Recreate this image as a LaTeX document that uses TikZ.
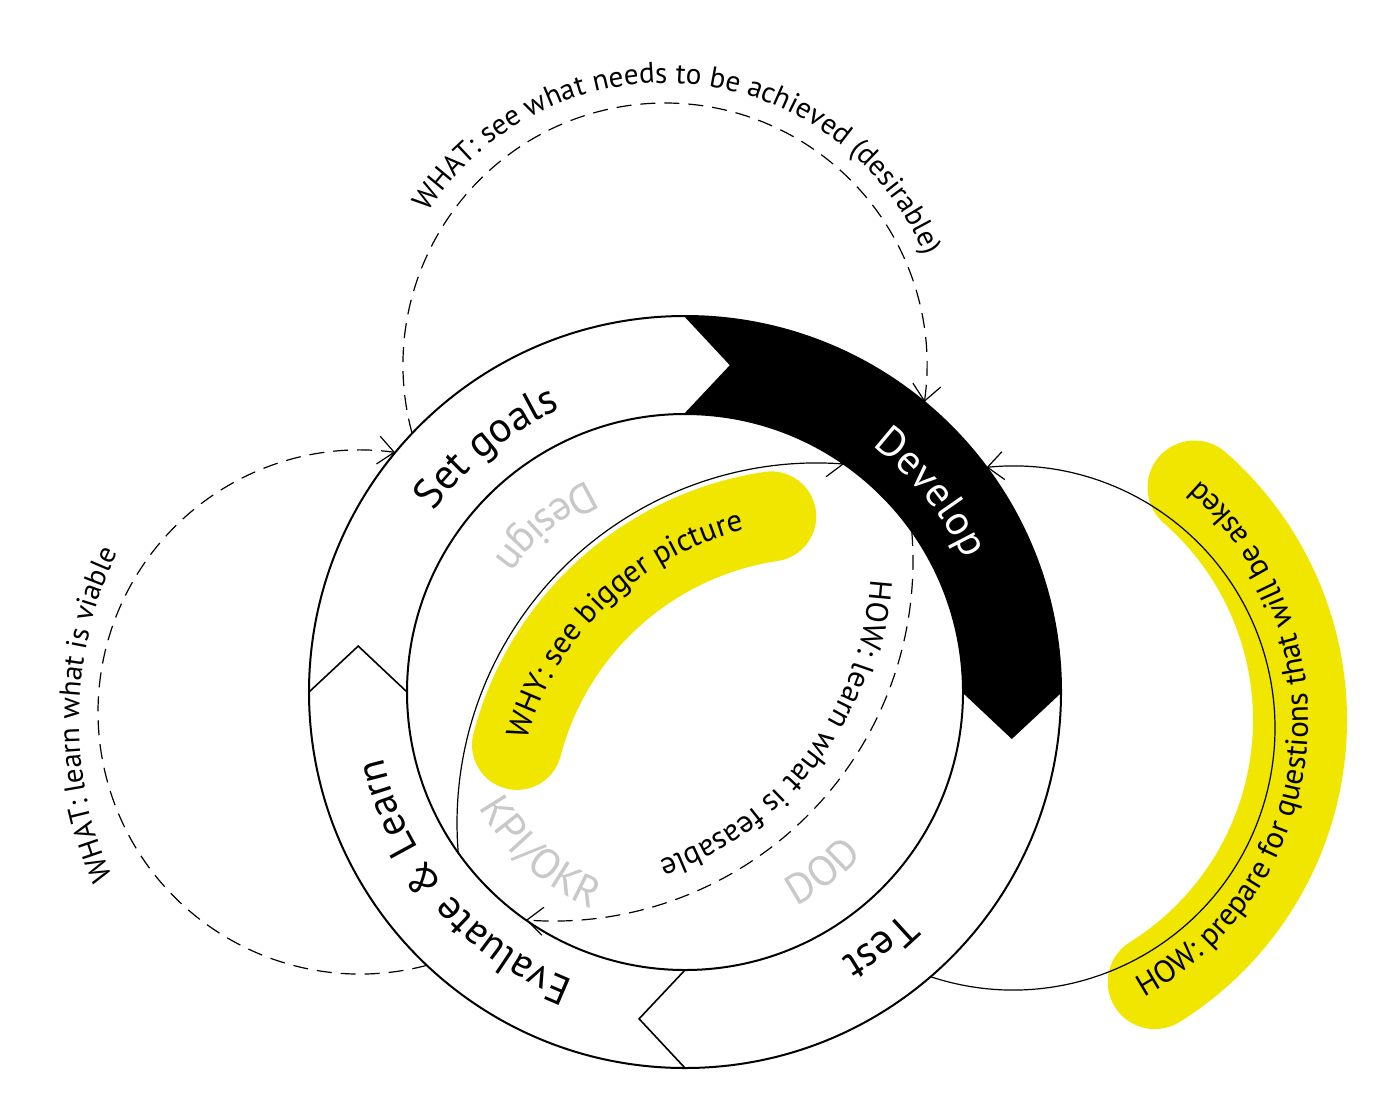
\documentclass[tikz,border=0pt]{standalone}
\usepackage{fontspec}
\setmainfont{PT Sans}
\usetikzlibrary{arrows.meta,decorations.text}
\definecolor{hl}{RGB}{240,230,0}
\definecolor{softgray}{RGB}{200,200,200}
\newcommand{\bigfnt}{\fontsize{21pt}{21pt}\selectfont}
\newcommand{\smallfnt}{\fontsize{15.5pt}{15.5pt}\selectfont}
\newcommand{\whatfnt}{\fontsize{14.6pt}{14.6pt}\selectfont}
\tikzset{
  ringline/.style={line width=1pt},
  chevron/.style={line width=0.8pt, line join=miter},
  thinline/.style={line width=0.6pt},
  dashedline/.style={line width=0.6pt, dash pattern=on 7.5pt off 4.5pt},
  barb/.style={-{Straight Barb[length=8pt,width=14pt]}},
  band/.style={hl, line width=#1, line cap=round},
}
\begin{document}
\begin{tikzpicture}[x=0.5pt,y=-0.5pt]
\useasboundingbox (0,0) rectangle (1400,1113);
\fill[white] (0,0) rectangle (1400,1113);
% centres
\coordinate (C) at (685,692);   % main ring
\coordinate (T) at (665,365);   % top dashed circle
\coordinate (L) at (360,712);   % left dashed circle
\coordinate (R) at (1013,728);  % right thin circle
\coordinate (W) at (817,823);   % WHY circle
\coordinate (H) at (553,561);   % HOW learn circle
\coordinate (Y) at (991,720);   % HOW prepare band
\coordinate (V) at (463,721);   % viable text arc

% yellow highlight bands
\draw[band=45pt] ([shift={(W)}]194.6:310) arc[start angle=194.6,end angle=261.5,radius=310];
\draw[band=47pt] ([shift={(Y)}]58:309) arc[start angle=58,end angle=-48.8,radius=309];

% Develop segment (black)
\fill[black] ([shift={(C)}]-90:376) arc[start angle=-90,end angle=0,radius=376]
  -- ([shift={(C)}]8:330) -- ([shift={(C)}]0:278)
  arc[start angle=0,end angle=-90,radius=278]
  -- ([shift={(C)}]-82:330) -- cycle;

% ring outlines
\draw[ringline] (C) circle[radius=376];
\draw[ringline] (C) circle[radius=278];
\foreach \b in {-90,0,90,180}{
  \draw[chevron] ([shift={(C)}]\b:376) -- ([shift={(C)}]\b+8:330) -- ([shift={(C)}]\b:278);
}

% connectors
\draw[dashedline,barb] ([shift={(T)}]164.9:262) arc[start angle=164.9,end angle=368.1,radius=262];
\draw[dashedline,barb] ([shift={(L)}]75.2:262) arc[start angle=75.2,end angle=277.7,radius=262];
\draw[thinline,barb] ([shift={(R)}]108.3:262) arc[start angle=108.3,end angle=-95.8,radius=262];
\draw[thinline,barb] ([shift={(W)}]175.2:360) arc[start angle=175.2,end angle=274.3,radius=360];
\draw[dashedline,barb] ([shift={(H)}]-4.8:360) arc[start angle=-4.8,end angle=94.3,radius=360];

% ring labels
\path[decorate,decoration={text along path,text align=center,
  text={|\bigfnt|Set goals}}]
  ([shift={(C)}]200:309) arc[start angle=200,end angle=262,radius=309];
\path[decorate,decoration={text along path,text align=center,
  text={|\bigfnt\color{white}|Develop}}]
  ([shift={(C)}]-70:309) arc[start angle=-70,end angle=-8,radius=309];
\path[decorate,decoration={text along path,text align=center,
  text={|\bigfnt|Test}}]
  ([shift={(C)}]25:309) arc[start angle=25,end angle=80,radius=309];
\path[decorate,decoration={text along path,text align=center,
  text={|\fontsize{20.5pt}{20.5pt}\selectfont|Evaluate {\&} Learn}}]
  ([shift={(C)}]100:309) arc[start angle=100,end angle=179,radius=309];

% grey labels
\path[decorate,decoration={text along path,text align=center,
  text={|\bigfnt\color{softgray}|Design}}]
  ([shift={(C)}]260:232) arc[start angle=260,end angle=200,radius=232];
\path[decorate,decoration={text along path,text align=center,
  text={|\bigfnt\color{softgray}|KPI/OKR}}]
  ([shift={(C)}]165:236) arc[start angle=165,end angle=99,radius=236];
\path[decorate,decoration={text along path,text align=center,
  text={|\bigfnt\color{softgray}|DOD}}]
  ([shift={(C)}]80:241) arc[start angle=80,end angle=25,radius=241];

% small labels
\path[decorate,decoration={text along path,text align=center,
  text={|\whatfnt|WHAT: see what needs to be achieved (desirable)}}]
  ([shift={(T)}]190:282) arc[start angle=190,end angle=360,radius=282];
\path[decorate,decoration={text along path,text align=center,
  text={|\whatfnt|WHAT: learn what is viable}}]
  ([shift={(V)}]140:384) arc[start angle=140,end angle=222,radius=384];
\path[decorate,decoration={text along path,text align=center,
  text={|\smallfnt|HOW: learn what is feasable}}]
  ([shift={(H)}]-15:318) arc[start angle=-15,end angle=89,radius=318];
\path[decorate,decoration={text along path,text align=center,
  text={|\smallfnt|WHY: see bigger picture}}]
  ([shift={(W)}]180:302) arc[start angle=180,end angle=272,radius=302];
\path[decorate,decoration={text along path,text align=center,
  text={|\smallfnt|HOW: prepare for questions that will be asked}}]
  ([shift={(Y)}]80:317) arc[start angle=80,end angle=-68,radius=317];
\end{tikzpicture}
\end{document}
